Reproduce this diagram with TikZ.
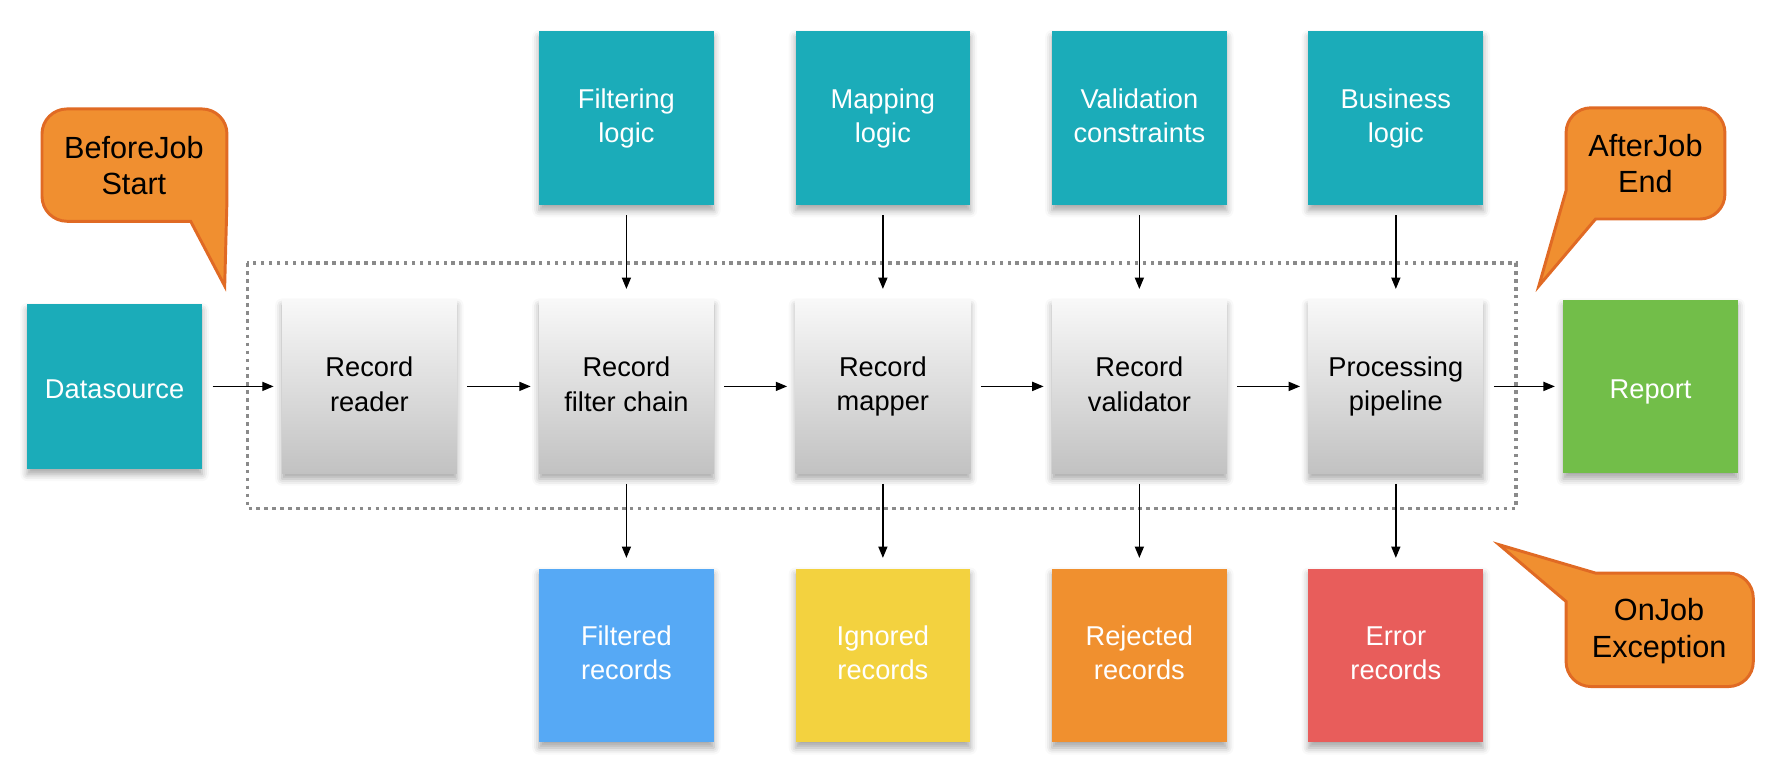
\documentclass[tikz,border=0pt]{standalone}
\usepackage{fontspec}
\setmainfont{Liberation Sans}
\usetikzlibrary{shadows.blur,arrows.meta}
\definecolor{tealbox}{HTML}{1BACB9}
\definecolor{bluebox}{HTML}{56A9F5}
\definecolor{yellowbox}{HTML}{F3D23F}
\definecolor{orangebox}{HTML}{F0902F}
\definecolor{redbox}{HTML}{E85D5B}
\definecolor{greenbox}{HTML}{72BE49}
\definecolor{gtop}{HTML}{F8F8F8}
\definecolor{gbot}{HTML}{C2C2C2}
\definecolor{callfill}{HTML}{F08F30}
\definecolor{callborder}{HTML}{E06A24}
\definecolor{dotgray}{HTML}{8A8A8A}
\begin{document}
\begin{tikzpicture}[x=0.5pt,y=-0.5pt,
  box/.style={minimum width=77pt, minimum height=76.5pt, inner sep=0pt, align=center,
    font=\fontsize{12}{15}\selectfont,
    execute at begin node={\rule{0pt}{13pt}}, execute at end node={\rule[-2pt]{0pt}{2pt}},
    blur shadow={shadow xshift=0pt, shadow yshift=-2.5pt, shadow blur radius=3pt, shadow opacity=35}},
  cbox/.style={box, fill=#1, text=white},
  gbox/.style={box, top color=gtop, bottom color=gbot},
  arr/.style={-{Triangle[length=5pt,width=4pt]}, line width=0.6pt, shorten <=4.5pt, shorten >=3.5pt},
  varr/.style={arr, shorten <=4.5pt, shorten >=4.5pt},
  bubble/.style={fill=callfill, draw=callborder, line width=1.3pt, rounded corners=11pt},
  calltext/.style={align=center, inner sep=0pt, font=\fontsize{13.5}{16}\selectfont},
  dotbox/.style={draw=dotgray, line width=1.6pt, dash pattern=on 1.6pt off 1.9pt}
]
\useasboundingbox (0,0) rectangle (1565,689);

% dotted frame
\draw[dotbox] (218,232) rectangle (1336,448);

% callouts
\draw[bubble] (118,96) -- (200,96) [sharp corners] -- (200,176) -- (198,252) -- (168,195) [rounded corners=11pt] -- (37,195) -- (37,96) -- cycle;
\node[calltext] (before) at (118,146) {BeforeJob\\Start};

\draw[bubble] (1450,95) -- (1520,95) -- (1520,193) [sharp corners] -- (1406,193) -- (1356,252) -- (1380,168) [rounded corners=11pt] -- (1380,95) -- cycle;
\node[calltext] (after) at (1450,144) {AfterJob\\End};

\draw[bubble] (1470,505) -- (1545,505) -- (1545,605) -- (1380,605) [sharp corners] -- (1380,530) -- (1321,480) -- (1406,505) -- cycle;
\node[calltext] (onjob) at (1462,556) {OnJob\\Exception};

% top row
\node[cbox=tealbox] (filt) at (552,104) {Filtering\\logic};
\node[cbox=tealbox] (map)  at (778,104) {Mapping\\logic};
\node[cbox=tealbox] (val)  at (1004,104) {Validation\\constraints};
\node[cbox=tealbox] (bus)  at (1230,104) {Business\\logic};

% middle row
\node[cbox=tealbox, minimum height=72.5pt] (ds) at (101,340.5) {Datasource};
\node[gbox] (reader) at (325.5,340.5) {Record\\reader};
\node[gbox] (fchain) at (552,340.5) {Record\\filter chain};
\node[gbox] (mapper) at (778,340.5) {Record\\mapper};
\node[gbox] (valid)  at (1004,340.5) {Record\\validator};
\node[gbox] (pipe)   at (1230,340.5) {Processing\\pipeline};
\node[cbox=greenbox] (report) at (1454.5,340.5) {Report};

% bottom row
\node[cbox=bluebox]   (filtered) at (552,577.5) {Filtered\\records};
\node[cbox=yellowbox] (ignored)  at (778,577.5) {Ignored\\records};
\node[cbox=orangebox] (rejected) at (1004,577.5) {Rejected\\records};
\node[cbox=redbox]    (errors)   at (1230,577.5) {Error\\records};

% horizontal arrows
\draw[arr] (ds) -- (reader);
\draw[arr] (reader) -- (fchain);
\draw[arr] (fchain) -- (mapper);
\draw[arr] (mapper) -- (valid);
\draw[arr] (valid) -- (pipe);
\draw[arr] (pipe) -- (report);

% vertical arrows
\draw[varr] (filt) -- (fchain);
\draw[varr] (map) -- (mapper);
\draw[varr] (val) -- (valid);
\draw[varr] (bus) -- (pipe);
\draw[varr] (fchain) -- (filtered);
\draw[varr] (mapper) -- (ignored);
\draw[varr] (valid) -- (rejected);
\draw[varr] (pipe) -- (errors);
\end{tikzpicture}
\end{document}
